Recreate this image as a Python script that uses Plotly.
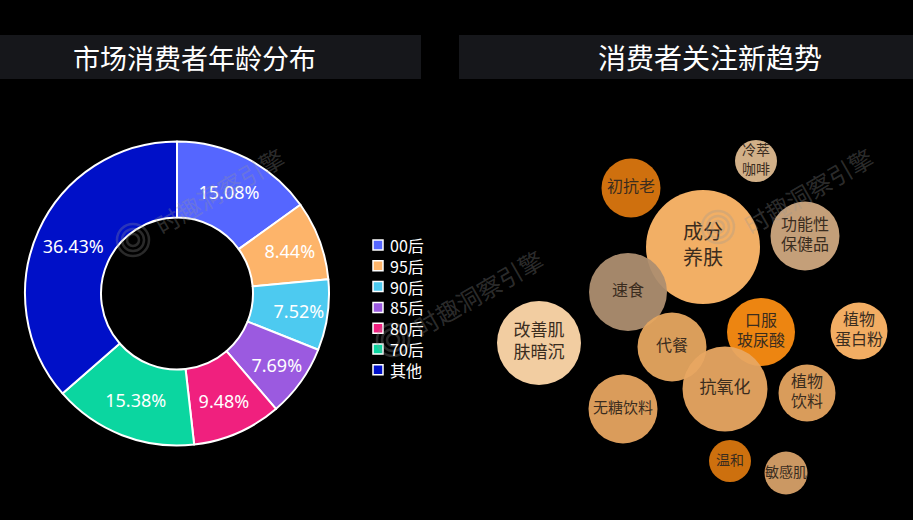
import plotly.graph_objects as go

# ---------------- data ----------------
age_labels = ["00后", "95后", "90后", "85后", "80后", "70后", "其他"]
age_values = [15.08, 8.44, 7.52, 7.69, 9.48, 15.38, 36.43]
age_colors = ["#5566FF", "#FDB46A", "#4DCAF0", "#9B5AE0", "#F0207E", "#0BD6A0", "#0010C8"]

trend_labels = ["成分<br>养肤", "初抗老", "冷萃<br>咖啡", "功能性<br>保健品", "速食", "口服<br>玻尿酸",
                "植物<br>蛋白粉", "改善肌<br>肤暗沉", "代餐", "抗氧化", "植物<br>饮料", "无糖饮料",
                "温和", "敏感肌"]
trend_x = [703, 631, 756, 805, 628, 761, 859, 539, 672, 725, 807, 623, 730, 786]
trend_y = [247, 188, 161, 236, 292, 332, 331, 343, 347, 389, 393, 409, 461, 473]
trend_r = [57, 29.5, 21, 34.5, 39, 34, 28.5, 42, 34.5, 42.5, 28.5, 34.5, 21, 21.5]
trend_colors = ["#FFB86A", "#DA760F", "#DDB98F", "#CFA880", "#AD8E70", "#FA8C12", "#FFB668",
                "#FFD8AA", "#E6A760", "#E8A762", "#E5A460", "#E6A460", "#D8760F", "#D6A068"]
trend_font = [20, 16, 14, 16, 16, 16, 16, 17, 16, 17, 16, 15, 14, 14]

titles = ["市场消费者年龄分布", "消费者关注新趋势"]
watermark = "时趣洞察引擎"

W, H = 913, 520

fig = go.Figure()

# bubble chart on a pixel-mapped axis
fig.add_trace(go.Scatter(
    x=trend_x, y=trend_y, mode="markers+text",
    text=trend_labels, textposition="middle center",
    textfont=dict(family="Noto Sans CJK SC", size=trend_font, color="#3A2C1E"),
    marker=dict(size=[2 * r for r in trend_r], sizemode="diameter", color=trend_colors,
                opacity=0.95, line=dict(width=0)),
    showlegend=False, hoverinfo="skip", cliponaxis=False,
))

# donut
fig.add_trace(go.Pie(
    labels=age_labels, values=age_values, sort=False, direction="clockwise", rotation=0,
    hole=0.5, marker=dict(colors=age_colors, line=dict(color="#FFFFFF", width=2)),
    text=[f"{v:.2f}%" for v in age_values], textinfo="text", textposition="inside",
    insidetextorientation="horizontal",
    textfont=dict(family="Noto Sans, sans-serif", size=18, color="#FFFFFF"),
    domain=dict(x=[25 / W, 329 / W], y=[1 - 445.5 / H, 1 - 141.5 / H]),
    hoverinfo="label+percent", showlegend=False,
))

shapes = [
    dict(type="rect", xref="paper", yref="paper", x0=0, x1=421 / W, y0=1 - 79 / H, y1=1 - 35 / H,
         fillcolor="#16171B", line=dict(width=0), layer="below"),
    dict(type="rect", xref="paper", yref="paper", x0=459 / W, x1=1, y0=1 - 79 / H, y1=1 - 35 / H,
         fillcolor="#16171B", line=dict(width=0), layer="below"),
]
annotations = [
    dict(text=titles[0], x=194, y=57, xref="x", yref="y", showarrow=False,
         font=dict(family="Noto Sans CJK SC", size=27, color="#FFFFFF")),
    dict(text=titles[1], x=710, y=57, xref="x", yref="y", showarrow=False,
         font=dict(family="Noto Sans CJK SC", size=28, color="#FFFFFF")),
]

# legend for the donut (compact, built from the data arrays)
leg_font = 16
leg_x, leg_y0, leg_step = 378, 245, leg_font * 1.3
for i, col in enumerate(age_colors):
    yy = leg_y0 + i * leg_step
    shapes.append(dict(type="rect", xref="x", yref="y", x0=leg_x - 5, x1=leg_x + 5,
                       y0=yy - 5, y1=yy + 5, fillcolor=col,
                       line=dict(color="#FFFFFF", width=1.5), layer="above"))
annotations.append(dict(text="<br>".join(age_labels), x=leg_x + 10,
                        y=leg_y0 + (len(age_labels) - 1) / 2 * leg_step, xref="x", yref="y",
                        xanchor="left", yanchor="middle", align="left", showarrow=False,
                        font=dict(family="Noto Sans CJK SC", size=leg_font, color="#FFFFFF")))

# watermarks: logo (concentric rings) + rotated text
wm_logo = [(133, 240), (393, 340), (718, 227)]
wm_text = [(219, 190), (478, 292), (808, 190)]
for (cx, cy) in wm_logo:
    for rr in (6, 11, 16):
        shapes.append(dict(type="circle", xref="x", yref="y", x0=cx - rr, x1=cx + rr,
                           y0=cy - rr, y1=cy + rr, line=dict(color="rgba(150,150,150,0.28)", width=2.5),
                           layer="above"))
for (tx, ty) in wm_text:
    annotations.append(dict(text=watermark, x=tx, y=ty, xref="x", yref="y", showarrow=False,
                            textangle=-30,
                            font=dict(family="Noto Sans CJK SC", size=24, color="rgba(150,150,150,0.3)")))

fig.update_layout(
    width=W, height=H, margin=dict(l=0, r=0, t=0, b=0),
    paper_bgcolor="#000000", plot_bgcolor="#000000",
    xaxis=dict(range=[0, W], domain=[0, 1], visible=False, fixedrange=True),
    yaxis=dict(range=[H, 0], domain=[0, 1], visible=False, fixedrange=True),
    shapes=shapes, annotations=annotations,
    showlegend=False,
)

fig.write_html("out.html", config={"displayModeBar": False})
